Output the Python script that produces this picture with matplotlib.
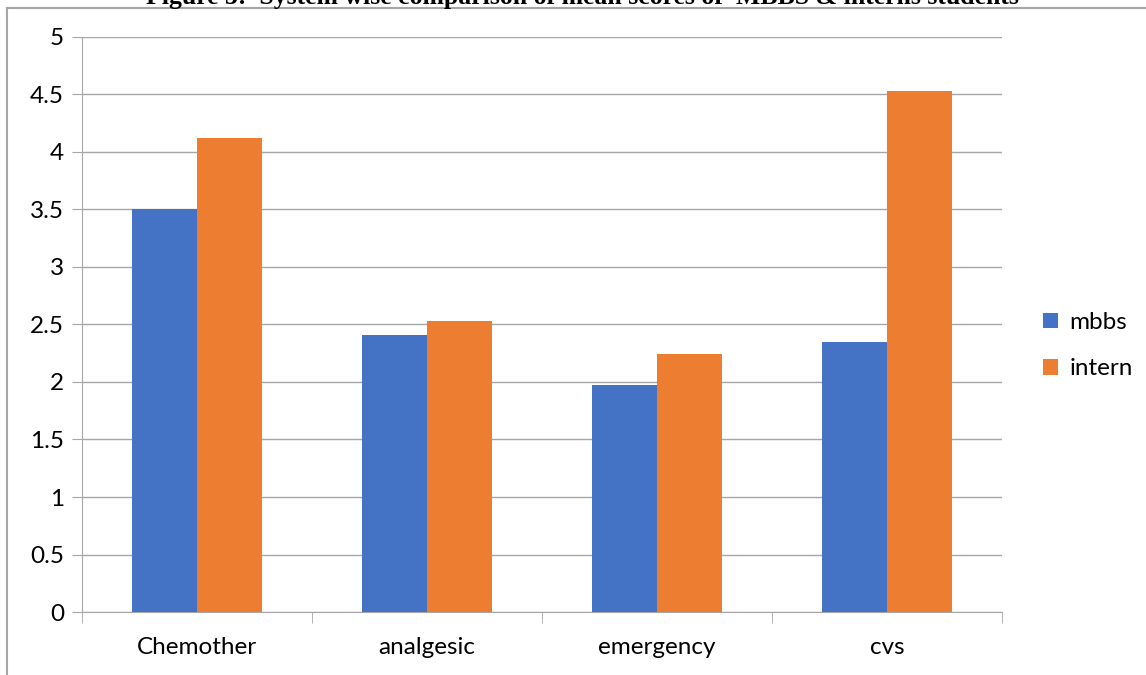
import matplotlib.pyplot as plt
import numpy as np

categories = ["Chemother", "analgesic", "emergency", "cvs"]
mbbs = [3.50, 2.41, 1.97, 2.35]
intern = [4.12, 2.53, 2.24, 4.53]
yticks = [0, 0.5, 1, 1.5, 2, 2.5, 3, 3.5, 4, 4.5, 5]

plt.rcParams['font.family'] = ['Lato', 'DejaVu Sans']

fig = plt.figure(figsize=(11.46, 6.75), dpi=100)
ax = fig.add_axes([0.0716, 0.0933, 0.8028, 0.852])

x = np.arange(len(categories))
w = 0.283
ax.bar(x - w / 2, mbbs, w, color="#4472C4", label="mbbs", zorder=3)
ax.bar(x + w / 2, intern, w, color="#ED7D31", label="intern", zorder=3)

ax.set_xlim(-0.5, len(categories) - 0.5)
ax.set_ylim(0, 5)
ax.set_yticks(yticks)
ax.set_yticklabels([f"{t:g}" for t in yticks], fontsize=17.5)
ax.yaxis.grid(True, color="#A6A6A6", linewidth=1, zorder=0)

# category labels centred, tick marks at the boundaries
ax.set_xticks(x)
ax.set_xticklabels(categories, fontsize=17.5)
ax.tick_params(axis="x", length=0, pad=18)
ax.set_xticks(np.arange(len(categories) + 1) - 0.5, minor=True)
ax.tick_params(axis="x", which="minor", length=8, color="#A6A6A6", direction="out")
ax.tick_params(axis="y", length=7, color="#A6A6A6", pad=6)

for s in ["top", "right"]:
    ax.spines[s].set_visible(False)
ax.spines["bottom"].set_color("#A6A6A6")
ax.spines["left"].set_color("#A6A6A6")

fig.legend(loc="center left", bbox_to_anchor=(0.891, 0.488), frameon=False,
           fontsize=17.5, handlelength=0.6, handleheight=0.6, labelspacing=1.05,
           handletextpad=0.5)

# outer chart border
fig.add_artist(plt.Line2D([0.0061, 0.0061], [0, 0.988], color="#A6A6A6", lw=1.5))
fig.add_artist(plt.Line2D([0.0061, 1], [0.988, 0.988], color="#A6A6A6", lw=1.5))

fig.text(0.508, 1 - 4 / 675, "Figure 3:  System wise comparison of mean scores of  MBBS & interns students",
         ha="center", va="baseline", fontsize=18.5, fontweight="bold",
         family=["Liberation Serif", "DejaVu Serif"])

fig.savefig("out.png", dpi=100)
